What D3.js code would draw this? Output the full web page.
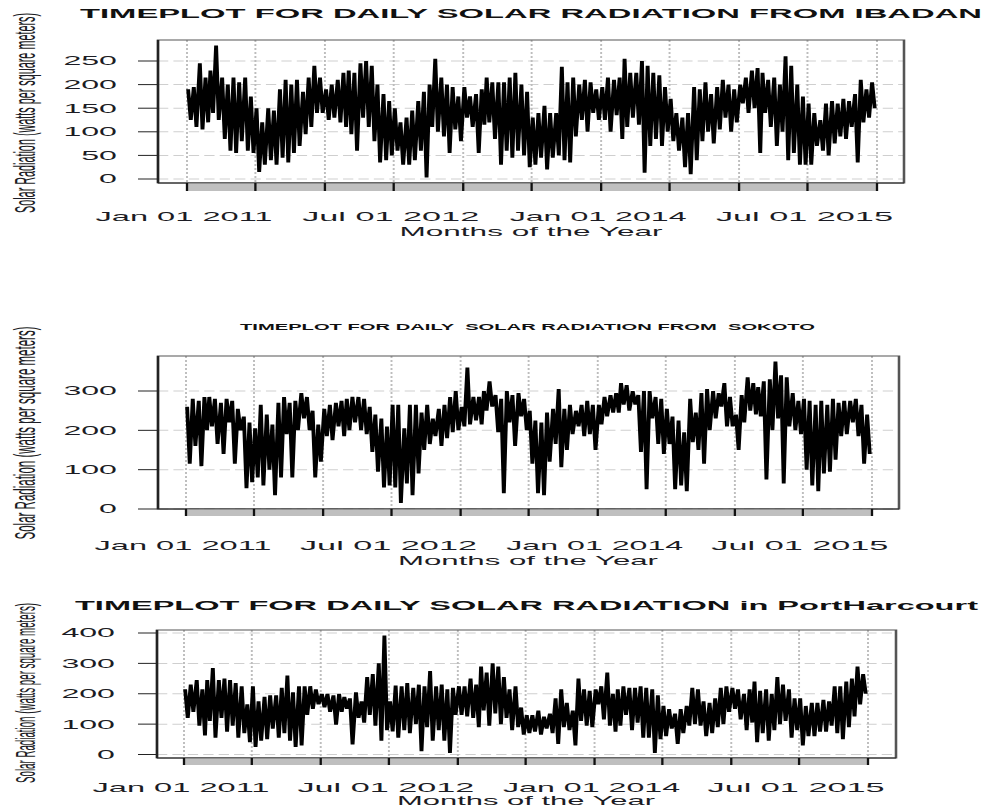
<!DOCTYPE html>
<html><head><meta charset="utf-8">
<script src="https://cdn.jsdelivr.net/npm/d3@7"></script>
<style>body{margin:0;background:#fff}svg{display:block}</style>
</head><body><svg id="c" width="992" height="809"></svg>
<script>
// ---- data: semi-monthly high / low readings (Jan 2011 .. Dec 2015) ----
const ibadanHi = [190,195,245,215,230,283,215,200,215,205,215,175,
 150,120,150,145,190,210,200,210,185,215,240,215,
 190,200,210,225,230,225,245,250,240,200,180,165,
 150,120,130,145,165,185,200,255,215,200,195,175,
 195,175,180,190,215,205,205,205,215,225,200,185,
 130,140,155,140,140,238,205,215,200,210,205,190,
 195,215,210,215,255,225,225,250,240,225,220,195,
 170,140,130,140,195,190,205,180,195,210,200,190,
 200,215,230,235,225,210,215,200,260,240,200,175,
 160,140,125,160,165,160,170,165,180,210,190,205];
const ibadanLo = [125,110,105,120,140,125,85,60,55,80,60,55,
 15,30,40,30,45,35,55,70,95,110,140,140,
 125,130,120,110,95,60,130,110,80,35,40,50,
 60,30,30,40,60,3,110,100,90,55,105,80,
 130,110,55,115,120,85,30,60,45,60,50,25,
 30,45,20,45,50,40,35,90,125,100,140,125,
 125,100,135,85,110,130,115,13,70,85,70,100,
 80,60,25,10,40,80,100,75,105,130,100,120,
 160,140,150,55,140,110,70,100,40,55,30,30,
 30,70,60,50,75,90,85,110,35,120,130,150];
const sokotoHi = [260,280,275,285,285,280,270,280,275,255,235,220,
 205,265,240,215,270,285,270,275,295,285,250,215,
 255,265,270,275,280,285,285,280,260,240,230,210,
 265,265,205,265,265,245,265,230,255,265,285,300,
 260,360,285,285,300,325,290,280,300,290,295,280,
 250,225,220,245,255,305,255,265,250,265,275,265,
 265,285,290,295,320,315,300,290,300,300,285,280,
 255,235,225,195,280,245,295,305,300,295,320,285,
 240,290,335,320,310,325,330,375,340,335,295,275,
 280,275,265,275,265,280,270,275,275,280,265,240];
const sokotoLo = [115,160,109,200,210,165,140,220,115,200,53,68,
 80,60,100,35,80,190,80,200,230,200,80,120,
 185,175,210,185,200,220,200,190,145,95,55,60,
 55,15,65,35,90,150,165,185,160,180,195,200,
 210,215,225,215,250,260,195,40,220,160,235,200,
 115,40,35,120,165,106,150,190,210,185,190,150,
 215,235,245,245,265,250,265,145,50,230,165,140,
 165,50,60,45,170,150,115,200,230,260,210,210,
 150,220,250,240,235,75,200,230,65,210,200,190,
 100,60,45,90,95,125,185,190,220,185,115,140];
const phHi = [215,230,245,215,245,285,245,250,245,235,225,165,
 225,175,190,195,195,220,260,205,225,225,225,215,
 200,200,195,200,190,185,205,175,255,265,300,392,
 175,227,225,235,220,230,225,275,225,230,215,220,
 225,225,250,230,290,270,300,290,255,215,225,155,
 130,130,145,125,135,185,215,170,145,250,215,210,
 215,225,270,200,215,225,220,220,225,220,215,195,
 160,150,135,150,160,220,215,175,170,185,220,225,
 220,215,200,215,240,210,215,200,255,230,215,185,
 185,160,170,170,180,175,225,225,240,250,290,265];
const phLo = [120,140,95,63,110,55,120,75,95,55,70,40,
 25,45,50,85,55,70,45,25,30,130,150,165,
 155,140,98,140,150,33,120,105,130,95,45,80,
 76,55,80,70,100,11,90,45,80,45,5,130,
 130,125,120,90,145,95,135,100,120,80,90,65,
 70,75,65,85,70,35,90,80,30,110,95,90,
 165,115,95,75,95,130,80,105,55,55,5,50,
 60,85,35,70,95,100,95,60,70,90,100,140,
 150,115,80,105,40,70,45,80,100,110,55,80,
 30,60,60,75,75,95,70,50,90,125,165,200];

const yTicksIbadan = [0,50,100,150,200,250];
const yTicksSokoto = [0,100,200,300];
const yTicksPH = [0,100,200,300,400];
const xTickLabels = ["Jan 01 2011","Jul 01 2012","Jan 01 2014","Jul 01 2015"];
const titles = ["TIMEPLOT FOR DAILY SOLAR RADIATION FROM IBADAN",
 "TIMEPLOT FOR DAILY  SOLAR RADIATION FROM  SOKOTO",
 "TIMEPLOT FOR DAILY SOLAR RADIATION in PortHarcourt"];
const yTitle = "Solar Radiation (watts per square meters)";
const xTitle = "Months of the Year";

// ---- layout ----
const SX = 2.57; // horizontal stretch of the original picture
const FONT = "'Liberation Sans', Arial, sans-serif";
const svg = d3.select("#c");
const root = svg.append("g").attr("transform", `scale(${SX},1)`);
const ix = v => v / SX;

const panels = [
 {hi: ibadanHi, lo: ibadanLo, ticks: yTicksIbadan, ymax: 250,
  box: {l:158, r:904, t:40, b:183}, xr: [187, 877], yr: [179, 61], bar: 191,
  title: {cx: 531, w: 902, base: 18.5, size: 12.5},
  xlabBase: 221.5, xtBase: 236, xtC: 531, xtW: 263, ytC: 113, ytL: 200, ytS: 11.5, labR: 117},
 {hi: sokotoHi, lo: sokotoLo, ticks: yTicksSokoto, ymax: 300,
  box: {l:158, r:899, t:356, b:509}, xr: [186, 872], yr: [509, 391], bar: 516,
  title: {cx: 527.5, w: 575, base: 330.5, size: 8.5},
  xlabBase: 550, xtBase: 565, xtC: 528, xtW: 260, ytC: 433, ytL: 213, ytS: 11.5, labR: 117},
 {hi: phHi, lo: phLo, ticks: yTicksPH, ymax: 400,
  box: {l:157, r:896, t:630, b:758}, xr: [184, 868], yr: [754.5, 633], bar: 765,
  title: {cx: 526.5, w: 903, base: 610, size: 12.5},
  xlabBase: 792, xtBase: 805, xtC: 526, xtW: 258, ytC: 693, ytL: 180, ytS: 10.5, labR: 115}
];

const tickDates = d3.timeMonth.every(6).range(new Date(2011,0,1), new Date(2016,0,2));

panels.forEach((p, k) => {
  const g = root.append("g");
  const x = d3.scaleTime().domain([new Date(2011,0,1), new Date(2016,0,1)]).range([ix(p.xr[0]), ix(p.xr[1])]);
  const y = d3.scaleLinear().domain([0, p.ymax]).range(p.yr);
  const L = ix(p.box.l), R = ix(p.box.r);

  // horizontal dashed grid
  g.selectAll(".hg").data(p.ticks).join("line")
    .attr("x1", L).attr("x2", R).attr("y1", d => y(d)).attr("y2", d => y(d))
    .attr("stroke", "#cfcfcf").attr("stroke-width", 1).attr("stroke-dasharray", "4,2");
  // vertical dotted grid
  g.selectAll(".vg").data(tickDates).join("line")
    .attr("x1", d => x(d)).attr("x2", d => x(d)).attr("y1", p.box.t).attr("y2", p.box.b)
    .attr("stroke", "#bdbdbd").attr("stroke-width", 0.75).attr("stroke-dasharray", "2,2");

  // series: zig-zag through semi-monthly high / low readings
  const pts = [];
  p.hi.forEach((h, i) => {
    const yr = 2011 + Math.floor(i / 24), mo = Math.floor((i % 24) / 2), half = i % 2;
    pts.push({date: new Date(yr, mo, 1 + half * 15 + 3), v: h});
    pts.push({date: new Date(yr, mo, 1 + half * 15 + 10), v: p.lo[i]});
  });
  g.append("path").datum(pts)
    .attr("d", d3.line().x(d => x(d.date)).y(d => y(d.v)))
    .attr("fill", "none").attr("stroke", "#000").attr("stroke-width", 1.5).attr("stroke-linejoin", "bevel");

  // box
  g.append("rect").attr("x", L).attr("y", p.box.t).attr("width", R - L).attr("height", p.box.b - p.box.t)
    .attr("fill", "none").attr("stroke", "#555").attr("stroke-width", 1);
  g.append("line").attr("x1", L).attr("x2", L).attr("y1", p.box.t).attr("y2", p.box.b).attr("stroke", "#222").attr("stroke-width", 0.9);
  g.append("line").attr("x1", L).attr("x2", R).attr("y1", p.box.b).attr("y2", p.box.b).attr("stroke", "#222").attr("stroke-width", 1.2);

  // grey x-axis bar with tick marks
  g.append("rect").attr("x", x(tickDates[0])).attr("y", p.box.b + 0.5)
    .attr("width", x(tickDates[tickDates.length - 1]) - x(tickDates[0])).attr("height", p.bar - p.box.b - 0.5)
    .attr("fill", "#bfbfbf");
  g.selectAll(".xt").data(tickDates).join("line")
    .attr("x1", d => x(d)).attr("x2", d => x(d)).attr("y1", p.box.b).attr("y2", p.bar)
    .attr("stroke", "#111").attr("stroke-width", 0.9);

  // y ticks and labels
  g.selectAll(".yt").data(p.ticks).join("line")
    .attr("x1", ix(138)).attr("x2", L).attr("y1", d => y(d)).attr("y2", d => y(d))
    .attr("stroke", "#222").attr("stroke-width", 1);
  g.selectAll(".yl").data(p.ticks).join("text")
    .attr("x", ix(p.labR)).attr("y", d => y(d) + 4.5).attr("text-anchor", "end")
    .attr("font-family", FONT).attr("font-size", 12.5).attr("fill", "#1c1c24").text(d => d);

  // x labels (every third tick)
  g.selectAll(".xl").data(xTickLabels).join("text")
    .attr("x", (d, i) => x(tickDates[i * 3]) - ix(3)).attr("y", p.xlabBase).attr("text-anchor", "middle")
    .attr("font-family", FONT).attr("font-size", 12.5).attr("fill", "#1c1c24")
    .attr("textLength", ix(177)).attr("lengthAdjust", "spacingAndGlyphs").text(d => d);

  // x title
  g.append("text").attr("x", ix(p.xtC)).attr("y", p.xtBase).attr("text-anchor", "middle")
    .attr("font-family", FONT).attr("font-size", 12.5).attr("fill", "#1c1c24")
    .attr("textLength", ix(p.xtW)).attr("lengthAdjust", "spacingAndGlyphs").text(xTitle);

  // y title
  g.append("text").attr("transform", `translate(${ix(35)},${p.ytC}) rotate(-90)`)
    .attr("text-anchor", "middle").attr("font-family", FONT).attr("font-size", p.ytS).attr("fill", "#1c1c24")
    .attr("textLength", p.ytL).attr("lengthAdjust", "spacingAndGlyphs").text(yTitle);

  // main title
  g.append("text").attr("x", ix(p.title.cx)).attr("y", p.title.base).attr("text-anchor", "middle")
    .attr("font-family", FONT).attr("font-weight", "bold").attr("font-size", p.title.size).attr("fill", "#111")
    .attr("xml:space", "preserve").style("white-space", "pre")
    .attr("textLength", ix(p.title.w)).attr("lengthAdjust", "spacingAndGlyphs").text(titles[k]);
});
</script></body></html>
